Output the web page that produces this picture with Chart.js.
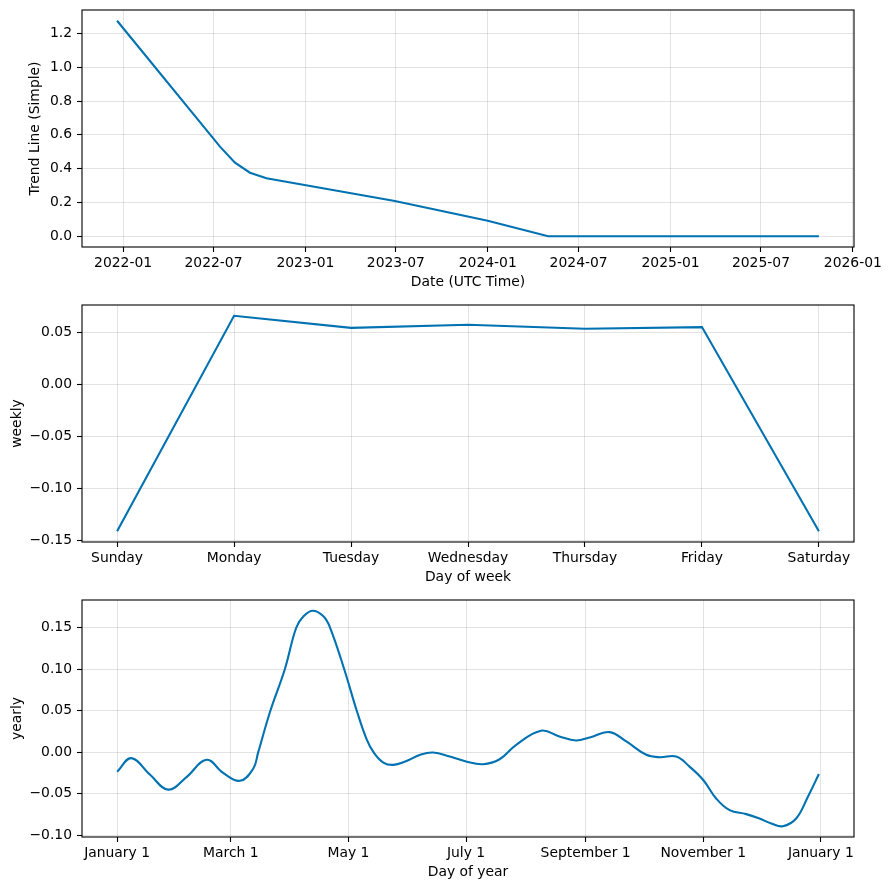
<!DOCTYPE html>
<html>
<head>
<meta charset="utf-8">
<script src="https://cdn.jsdelivr.net/npm/chart.js@4.4.1/dist/chart.umd.min.js"></script>
<style>
  body { margin: 0; background: #fff; width: 889px; height: 890px; overflow: hidden; }
  canvas { position: absolute; left: 0; }
</style>
</head>
<body>
<canvas id="trend" width="889" height="295" style="top:0px"></canvas>
<canvas id="weekly" width="889" height="295" style="top:295px"></canvas>
<canvas id="yearly" width="889" height="295" style="top:590px"></canvas>
<script>
// trend component
var trendDates = ['2021-12-20', '2022-07-14', '2022-08-13', '2022-09-12', '2022-10-15', '2023-06-29', '2024-01-01', '2024-05-01', '2025-10-25'];
var trendValues = [1.275, 0.530, 0.435, 0.376, 0.343, 0.209, 0.092, 0.0, 0.0];
var trendTickLabels = ['2022-01', '2022-07', '2023-01', '2023-07', '2024-01', '2024-07', '2025-01', '2025-07', '2026-01'];
var trendYTicks = [0.0, 0.2, 0.4, 0.6, 0.8, 1.0, 1.2];

// weekly component
var weekDays = ['Sunday', 'Monday', 'Tuesday', 'Wednesday', 'Thursday', 'Friday', 'Saturday'];
var weeklyValues = [-0.1413, 0.0660, 0.0544, 0.0573, 0.0535, 0.0551, -0.1413];
var weeklyYTicks = [-0.15, -0.10, -0.05, 0.00, 0.05];

// yearly component (day of year from Jan 1)
var yearDays = [0, 7.4, 17, 26.5, 36, 46.4, 55, 63.7, 70.6, 73.2, 79.5, 87, 92.9, 96.7, 101.5, 107, 110.5, 117.8, 124.3, 129.5, 133, 138.1, 143.3, 149.4, 157.2, 163.9, 172.6, 181, 189.8, 198.4, 207, 219.9, 229.4, 238, 245.1, 255.4, 264.1, 274.5, 281.4, 290, 296.9, 304, 310.7, 317.7, 326.3, 333.2, 339.3, 345.3, 352.2, 358.3, 364];
var yearlyValues = [-0.0236, -0.0072, -0.0270, -0.0452, -0.0300, -0.0092, -0.0250, -0.0345, -0.0200, 0.0, 0.050, 0.100, 0.150, 0.1638, 0.1705, 0.1638, 0.150, 0.100, 0.050, 0.015, 0.0, -0.0125, -0.0153, -0.0113, -0.0032, -0.0004, -0.0053, -0.0113, -0.0145, -0.0085, 0.0089, 0.0259, 0.019, 0.0141, 0.0178, 0.0242, 0.0129, -0.0032, -0.0061, -0.0053, -0.0174, -0.0335, -0.0558, -0.0699, -0.0747, -0.080, -0.086, -0.0893, -0.080, -0.0537, -0.0263];
var yearTickDays = [0, 59, 120, 181, 243, 304, 365];
var yearTickLabels = ['January 1', 'March 1', 'May 1', 'July 1', 'September 1', 'November 1', 'January 1'];
var yearlyYTicks = [-0.10, -0.05, 0.00, 0.05, 0.10, 0.15];

Chart.defaults.font.family = 'DejaVu Sans';
Chart.defaults.font.size = 13.9;
Chart.defaults.color = '#000';

function toMs(s) {
  var p = s.split('-');
  return Date.UTC(+p[0], +p[1] - 1, p[2] ? +p[2] : 1);
}

function fmt(v, digits) {
  var s = Math.abs(v).toFixed(digits);
  return (v < -1e-9 ? '\u2212' : '') + s;
}

function pad(lo, hi) {
  var m = (hi - lo) * 0.05;
  return [lo - m, hi + m];
}

var frame = {
  id: 'frame',
  afterDraw: function(chart) {
    var a = chart.chartArea, ctx = chart.ctx;
    ctx.save();
    ctx.strokeStyle = '#000';
    ctx.lineWidth = 1.1;
    ctx.strokeRect(a.left, a.top, a.right - a.left, a.bottom - a.top);
    ctx.restore();
  }
};

function makeChart(id, xs, ys, xTicks, xLabel, yTicks, yDigits, xTitle, yTitle, yTitlePad, tension) {
  var pts = xs.map(function(x, i) { return {x: x, y: ys[i]}; });
  var xr = pad(Math.min.apply(null, xs), Math.max.apply(null, xs));
  var yr = pad(Math.min.apply(null, ys), Math.max.apply(null, ys));
  return new Chart(document.getElementById(id), {
    type: 'line',
    data: {
      datasets: [{
        data: pts,
        borderColor: '#0072B2',
        borderWidth: 2.1,
        pointRadius: 0,
        tension: tension
      }]
    },
    options: {
      responsive: false,
      animation: false,
      devicePixelRatio: 1,
      layout: { padding: { left: 0, top: 10, right: 35, bottom: 0 } },
      plugins: { legend: { display: false }, tooltip: { enabled: false } },
      scales: {
        x: {
          type: 'linear',
          min: xr[0],
          max: xr[1],
          afterBuildTicks: function(scale) {
            scale.ticks = xTicks.map(function(v) { return {value: v}; });
          },
          afterFit: function(scale) {
            scale.height = 48;
            scale.paddingLeft = 0;
            scale.paddingRight = 0;
          },
          ticks: {
            autoSkip: false,
            maxRotation: 0,
            padding: 3,
            callback: function(v, i) { return xLabel(v, i); }
          },
          grid: { color: 'rgba(128,128,128,0.22)', lineWidth: 1, tickColor: '#000', tickLength: 5, tickWidth: 1.1 },
          border: { display: false },
          title: { display: true, text: xTitle, padding: { top: 0, bottom: 4 } }
        },
        y: {
          min: yr[0],
          max: yr[1],
          afterBuildTicks: function(scale) {
            scale.ticks = yTicks.map(function(v) { return {value: v}; });
          },
          afterFit: function(scale) {
            scale.width = 82;
            scale.paddingTop = 0;
            scale.paddingBottom = 0;
          },
          ticks: {
            padding: 5,
            callback: function(v) { return fmt(v, yDigits); }
          },
          grid: { color: 'rgba(128,128,128,0.22)', lineWidth: 1, tickColor: '#000', tickLength: 5, tickWidth: 1.1 },
          border: { display: false },
          title: { display: true, text: yTitle, padding: { top: yTitlePad, bottom: 0 } }
        }
      }
    },
    plugins: [frame]
  });
}

var trendMs = trendDates.map(toMs);
var trendTickMs = trendTickLabels.map(toMs);
makeChart('trend', trendMs, trendValues, trendTickMs,
  function(v, i) { return trendTickLabels[i]; },
  trendYTicks, 1, 'Date (UTC Time)', 'Trend Line (Simple)', 27, 0);

var weekIdx = weekDays.map(function(d, i) { return i; });
makeChart('weekly', weekIdx, weeklyValues, weekIdx,
  function(v, i) { return weekDays[i]; },
  weeklyYTicks, 2, 'Day of week', 'weekly', 9, 0);

makeChart('yearly', yearDays, yearlyValues, yearTickDays,
  function(v, i) { return yearTickLabels[i]; },
  yearlyYTicks, 2, 'Day of year', 'yearly', 9, 0.4);
</script>
</body>
</html>
